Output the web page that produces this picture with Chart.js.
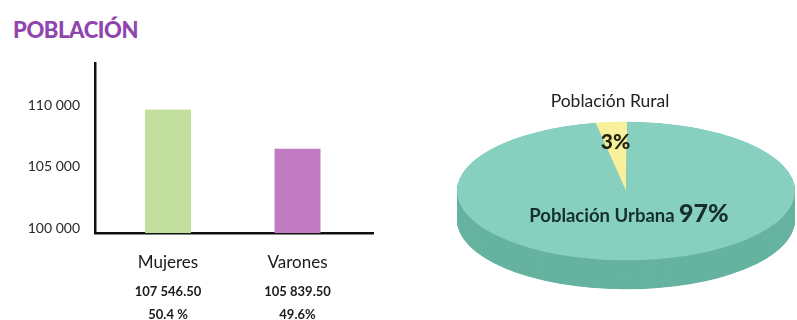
<!DOCTYPE html>
<html lang="es">
<head>
    <meta charset="UTF-8">
    <title>Población</title>
    <script src="https://cdn.jsdelivr.net/npm/chart.js@4.4.0/dist/chart.umd.min.js"></script>
    <style>
        html, body { margin: 0; padding: 0; background: #fff; width: 797px; height: 320px; overflow: hidden; }
        .title { position: absolute; left: 13px; top: 16px; font: 900 22px Lato, sans-serif; color: #9045ae; letter-spacing: -0.4px; }
        .bars { position: absolute; left: 0; top: 55px; width: 400px; height: 265px; }
        .pieClip { position: absolute; left: 400px; top: 60px; width: 397px; height: 260px; overflow: hidden; }
        .pieBox { position: relative; width: 397px; height: 360px; }
    </style>
</head>
<body>
    <div class="title">POBLACIÓN</div>
    <div class="bars"><canvas id="barChart"></canvas></div>
    <div class="pieClip"><div class="pieBox"><canvas id="pieChart"></canvas></div></div>

    <script>
        // bar heights as drawn in the picture; the printed figures are below
        var categories = ['Mujeres', 'Varones'];
        var barHeights = [109700, 106500];
        var populationText = ['107 546.50', '105 839.50'];
        var shareText = ['50.4 %', '49.6%'];
        var yTicks = [100000, 105000, 110000];

        var pieLabels = ['Población Rural', 'Población Urbana'];
        var pieValues = [3, 97];

        var FONT = 'Lato, sans-serif';

        // two extra lines of text under each category
        var subLabels = {
            id: 'subLabels',
            afterDraw: function(chart) {
                var ctx = chart.ctx;
                var x = chart.scales.x;
                ctx.save();
                ctx.fillStyle = '#1a1a1a';
                ctx.textAlign = 'center';
                ctx.textBaseline = 'middle';
                for (var i = 0; i < categories.length; i++) {
                    var px = x.getPixelForValue(i);
                    ctx.font = 'bold 13px ' + FONT;
                    ctx.fillText(populationText[i], px, 237);
                    ctx.fillText(shareText[i], px, 260);
                }
                ctx.restore();
            }
        };

        new Chart(document.getElementById('barChart').getContext('2d'), {
            type: 'bar',
            data: {
                datasets: [{
                    data: barHeights.map(function(v, i) { return { x: i, y: v }; }),
                    backgroundColor: ['#c3df9e', '#c17bc1'],
                    categoryPercentage: 1,
                    barPercentage: 0.355
                }]
            },
            options: {
                responsive: true,
                maintainAspectRatio: false,
                animation: false,
                layout: { padding: { top: 8, right: 27, left: 0, bottom: 0 } },
                plugins: { legend: { display: false }, tooltip: { enabled: false } },
                scales: {
                    x: {
                        type: 'linear',
                        offset: false,
                        min: -0.564,
                        max: 1.583,
                        grid: { display: false, drawTicks: false },
                        border: { display: true, color: '#111', width: 2.5 },
                        afterBuildTicks: function(s) { s.ticks = categories.map(function(c, i) { return { value: i }; }); },
                        ticks: {
                            color: '#1a1a1a',
                            font: { family: FONT, size: 17 },
                            padding: 19,
                            callback: function(v) { return categories[v]; }
                        },
                        afterFit: function(s) { s.height = 87; s.paddingLeft = 0; s.paddingRight = 0; }
                    },
                    y: {
                        min: 99590,
                        max: 113520,
                        grid: { display: false, drawTicks: false },
                        border: { display: true, color: '#111', width: 2.5 },
                        afterBuildTicks: function(s) { s.ticks = yTicks.map(function(v) { return { value: v }; }); },
                        ticks: {
                            color: '#2a2a2a',
                            padding: 15,
                            font: { family: FONT, size: 14 },
                            callback: function(v) { return String(v).replace(/\B(?=(\d{3})+(?!\d))/g, ' '); }
                        },
                        afterFit: function(s) { s.width = 95; s.paddingTop = 0; s.paddingBottom = 0; }
                    }
                }
            },
            plugins: [subLabels]
        });

        // squash the round pie into a tilted disc with a side wall
        var K = 0.41;
        var DEPTH = 29;
        var CENTER_Y = 131;
        var sideColors = ['#d9d27a', '#66b3a0'];

        var tiltedPie = {
            id: 'tiltedPie',
            beforeDatasetsDraw: function(chart) {
                var ctx = chart.ctx;
                var meta = chart.getDatasetMeta(0);
                var a0 = meta.data[0];
                ctx.save();
                ctx.translate(a0.x, CENTER_Y);
                ctx.scale(1, K);
                ctx.translate(-a0.x, -a0.y);
                var depthU = DEPTH / K;
                meta.data.forEach(function(arc, i) {
                    ctx.fillStyle = sideColors[i];
                    for (var d = depthU; d > 0; d -= 1) {
                        ctx.beginPath();
                        ctx.moveTo(arc.x, arc.y + d);
                        ctx.arc(arc.x, arc.y + d, arc.outerRadius, arc.startAngle, arc.endAngle);
                        ctx.closePath();
                        ctx.fill();
                    }
                });
            },
            afterDatasetsDraw: function(chart) {
                chart.ctx.restore();
            },
            afterDraw: function(chart) {
                var ctx = chart.ctx;
                var meta = chart.getDatasetMeta(0);
                var rural = meta.data[0];
                var cx = rural.x;
                var r = rural.outerRadius;
                var mid = (rural.startAngle + rural.endAngle) / 2;
                ctx.save();
                ctx.textAlign = 'center';
                ctx.textBaseline = 'middle';

                ctx.fillStyle = '#222';
                ctx.font = '17.5px ' + FONT;
                ctx.fillText(pieLabels[0], cx - 16, CENTER_Y - r * K - 20);

                ctx.fillStyle = '#222210';
                ctx.font = '900 21px ' + FONT;
                ctx.fillText(pieValues[0] + '%', cx + Math.cos(mid) * r * 0.71, CENTER_Y + Math.sin(mid) * r * 0.71 * K);

                // urban label: name + big percentage
                var name = pieLabels[1] + ' ';
                var pct = pieValues[1] + '%';
                ctx.font = 'bold 18.5px ' + FONT;
                var w1 = ctx.measureText(name).width;
                ctx.font = '900 25px ' + FONT;
                var w2 = ctx.measureText(pct).width;
                var x0 = cx + 3 - (w1 + w2) / 2;
                var y0 = CENTER_Y + 25;
                ctx.textAlign = 'left';
                ctx.fillStyle = '#15302a';
                ctx.font = 'bold 18.5px ' + FONT;
                ctx.fillText(name, x0, y0);
                ctx.font = '900 25px ' + FONT;
                ctx.fillText(pct, x0 + w1, y0 - 2);
                ctx.restore();
            }
        };

        new Chart(document.getElementById('pieChart').getContext('2d'), {
            type: 'pie',
            data: {
                labels: pieLabels,
                datasets: [{
                    data: pieValues,
                    backgroundColor: ['#f8f09a', '#87d0c0'],
                    borderWidth: 0
                }]
            },
            options: {
                responsive: true,
                maintainAspectRatio: false,
                animation: false,
                rotation: -10.4,
                layout: { padding: { left: 57, right: 2, top: 11, bottom: 11 } },
                plugins: { legend: { display: false }, tooltip: { enabled: false } }
            },
            plugins: [tiltedPie]
        });
    </script>
</body>
</html>
